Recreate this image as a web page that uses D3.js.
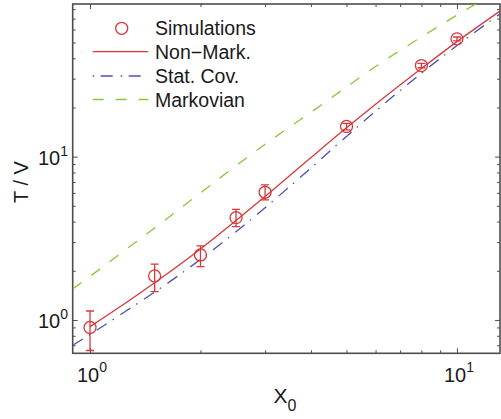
<!DOCTYPE html>
<html>
<head>
<meta charset="utf-8">
<script src="https://cdn.jsdelivr.net/npm/d3@7"></script>
<style>
  html, body { margin: 0; padding: 0; background: #fff; }
  svg text { font-family: "Liberation Sans", Arial, Helvetica, sans-serif; fill: #1a1a1a; }
</style>
</head>
<body>
<svg id="chart" width="501" height="419"></svg>
<script>
// simulation points with error bars
var simX  = [1, 1.5, 2, 2.5, 3, 5, 8, 10];
var simY  = [0.90, 1.86, 2.50, 4.23, 6.05, 15.3, 36.1, 52.6];
var simLo = [0.65, 1.49, 2.12, 3.73, 5.43, 14.6, 35.0, 51.2];
var simHi = [1.135, 2.20, 2.84, 4.76, 6.71, 16.0, 37.2, 54.0];

// model curves
var nmX = [1, 1.25, 1.5, 2, 2.5, 3, 4, 5, 6, 8, 10, 13.1];
var nmY = [0.91, 1.27, 1.69, 2.72, 4.06, 5.71, 9.87, 15.0, 20.9, 34.6, 50.6, 77.8];
var gridX = [0.897, 1, 1.25, 1.5, 2, 2.5, 3, 4, 5, 6, 8, 10, 13.1];
var scY = [0.70, 0.815, 1.13, 1.48, 2.35, 3.47, 4.87, 8.53, 13.3, 19.0, 32.4, 47.9, 74.7];
var mkY = [1.55, 1.85, 2.69, 3.66, 6.0, 8.8, 11.9, 18.7, 26.7, 35.6, 54, 73.5, 105];

// ticks
var xMajor = [1, 10];
var xMinor = [2, 3, 4, 5, 6, 7, 8, 9];
var yMajor = [1, 10];
var yMinor = [0.7, 0.8, 0.9, 2, 3, 4, 5, 6, 7, 8, 9, 20, 30, 40, 50, 60, 70, 80];

var legendLabels = ["Simulations", "Non\u2212Mark.", "Stat. Cov.", "Markovian"];

var red = "#d8373b", blue = "#4f4fb3", green = "#8cc43c", axisCol = "#4d4d4d";

var svg = d3.select("#chart");
var L = 72.7, R = 500, T = 4, B = 353.3;

var x = d3.scaleLog().domain([0.897, 13.1]).range([L, R]);
var y = d3.scaleLog().domain([0.625, 86]).range([B, T]);

svg.append("defs").append("clipPath").attr("id", "clip")
    .append("rect").attr("x", L).attr("y", T).attr("width", R - L).attr("height", B - T);

// ticks on all four sides, pointing inward
function ticks(axis, vals, size, transform)
{
    var g = svg.append("g").attr("transform", transform)
        .call(axis.tickValues(vals).tickSize(-size).tickFormat(""));
    g.select(".domain").remove();
    g.selectAll("line").attr("stroke", axisCol).attr("stroke-width", 1);
}
ticks(d3.axisBottom(x), xMinor, 3, "translate(0," + B + ")");
ticks(d3.axisBottom(x), xMajor, 5, "translate(0," + B + ")");
ticks(d3.axisTop(x), xMinor, 3, "translate(0," + T + ")");
ticks(d3.axisTop(x), xMajor, 5, "translate(0," + T + ")");
ticks(d3.axisLeft(y), yMinor, 3, "translate(" + L + ",0)");
ticks(d3.axisLeft(y), yMajor, 5, "translate(" + L + ",0)");
ticks(d3.axisRight(y), yMinor, 3, "translate(" + R + ",0)");
ticks(d3.axisRight(y), yMajor, 5, "translate(" + R + ",0)");

svg.append("rect").attr("x", L).attr("y", T).attr("width", R - L).attr("height", B - T)
    .attr("fill", "none").attr("stroke", axisCol).attr("stroke-width", 1.6);

// tick labels 10^n
xMajor.forEach(function(v)
{
    var t = svg.append("text").attr("x", x(v) + 2).attr("y", 381.7)
        .attr("text-anchor", "middle").attr("font-size", 20);
    t.append("tspan").text("10");
    t.append("tspan").attr("font-size", 14).attr("dy", -10).text(Math.round(Math.log10(v)));
});
yMajor.forEach(function(v)
{
    var t = svg.append("text").attr("x", 68).attr("y", y(v) + 8.3)
        .attr("text-anchor", "end").attr("font-size", 20);
    t.append("tspan").text("10");
    t.append("tspan").attr("font-size", 14).attr("dy", -9).text(Math.round(Math.log10(v)));
});

// axis titles
svg.append("text").attr("transform", "translate(27.5,182) rotate(-90)")
    .attr("text-anchor", "middle").attr("font-size", 20).text("T / V");
var xt = svg.append("text").attr("x", 285).attr("y", 403).attr("text-anchor", "middle").attr("font-size", 21);
xt.append("tspan").text("X");
xt.append("tspan").attr("font-size", 16).attr("dy", 8).text("0");

// curves
var plot = svg.append("g").attr("clip-path", "url(#clip)");
var line = d3.line()
    .x(function(d) { return x(d[0]); })
    .y(function(d) { return y(d[1]); })
    .curve(d3.curveMonotoneX);

plot.append("path").datum(d3.zip(gridX, mkY)).attr("d", line)
    .attr("fill", "none").attr("stroke", green).attr("stroke-width", 1.3)
    .attr("stroke-dasharray", "11,12");
plot.append("path").datum(d3.zip(gridX, scY)).attr("d", line)
    .attr("fill", "none").attr("stroke", blue).attr("stroke-width", 1.3)
    .attr("stroke-dasharray", "12,7,1.5,7.8");
plot.append("path").datum(d3.zip(nmX, nmY)).attr("d", line)
    .attr("fill", "none").attr("stroke", red).attr("stroke-width", 1.3);

// simulations with error bars
var sims = d3.range(simX.length).map(function(i)
{
    return { x: simX[i], y: simY[i], lo: simLo[i], hi: simHi[i] };
});
var sg = plot.selectAll("g.sim").data(sims).enter().append("g").attr("class", "sim")
    .attr("stroke", red).attr("stroke-width", 1.3).attr("fill", "none");
sg.append("line")
    .attr("x1", function(d) { return x(d.x); }).attr("x2", function(d) { return x(d.x); })
    .attr("y1", function(d) { return y(d.lo); }).attr("y2", function(d) { return y(d.hi); });
sg.append("line")
    .attr("x1", function(d) { return x(d.x) - 4; }).attr("x2", function(d) { return x(d.x) + 4; })
    .attr("y1", function(d) { return y(d.lo); }).attr("y2", function(d) { return y(d.lo); });
sg.append("line")
    .attr("x1", function(d) { return x(d.x) - 4; }).attr("x2", function(d) { return x(d.x) + 4; })
    .attr("y1", function(d) { return y(d.hi); }).attr("y2", function(d) { return y(d.hi); });
sg.append("circle")
    .attr("cx", function(d) { return x(d.x); }).attr("cy", function(d) { return y(d.y); })
    .attr("r", 6);

// legend
var lg = svg.append("g");
var rowY = [28.3, 51.7, 76, 99.5];
lg.append("circle").attr("cx", 121.7).attr("cy", rowY[0]).attr("r", 6)
    .attr("fill", "none").attr("stroke", red).attr("stroke-width", 1.3);
lg.append("line").attr("x1", 92.7).attr("x2", 148.3).attr("y1", rowY[1]).attr("y2", rowY[1])
    .attr("stroke", red).attr("stroke-width", 1.3);
lg.append("line").attr("x1", 92.7).attr("x2", 148.3).attr("y1", rowY[2]).attr("y2", rowY[2])
    .attr("stroke", blue).attr("stroke-width", 1.3).attr("stroke-dasharray", "1.5,6.5,12,8");
lg.append("line").attr("x1", 92.7).attr("x2", 148.3).attr("y1", rowY[3]).attr("y2", rowY[3])
    .attr("stroke", green).attr("stroke-width", 1.3).attr("stroke-dasharray", "11,12");
legendLabels.forEach(function(s, i)
{
    lg.append("text").attr("x", 155).attr("y", rowY[i] + 7).attr("font-size", 19.5).text(s);
});
</script>
</body>
</html>
